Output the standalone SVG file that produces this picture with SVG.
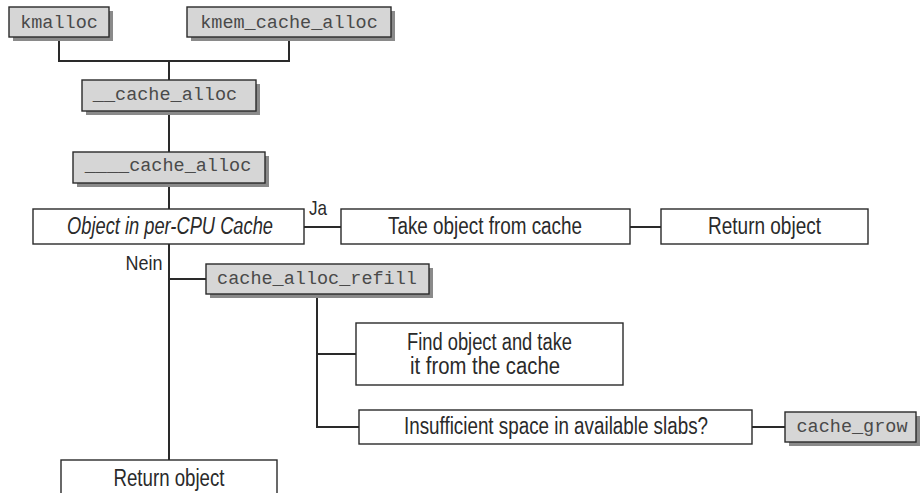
<svg xmlns="http://www.w3.org/2000/svg" width="922" height="493" viewBox="0 0 922 493">
<style>
.bg{fill:#ffffff}
.fn rect.sh{fill:#8a8a8a;stroke:none}
.fn rect.bx{fill:#d6d6d6;stroke:#2a2a2a;stroke-width:1.4}
.fn text{font-family:"Liberation Mono","Courier New",monospace;font-size:18.5px;fill:#4a4a4a;text-anchor:middle}
.st rect{fill:#ffffff;stroke:#2a2a2a;stroke-width:1.4}
.st text,.lbl{font-family:"Liberation Sans Narrow","Liberation Sans",Arial,sans-serif;font-size:23px;fill:#2a2a2a;text-anchor:middle}
.lbl{font-size:21px}
.it{font-style:italic}
#connectors path{fill:none;stroke:#2a2a2a;stroke-width:2}
</style>
<rect class="bg" x="0" y="0" width="922" height="493"/>
<g id="connectors">
<path d="M59 37V61H289V37M169 61V80"/>
<path d="M169 111V152"/>
<path d="M169 183V209"/>
<path d="M304 227H341"/>
<path d="M630 227H661"/>
<path d="M169 244V460"/>
<path d="M169 279H206"/>
<path d="M317 294V427H359M317 354H356"/>
<path d="M752 427H785"/>
</g>
<g id="kmalloc" class="fn"><rect class="sh" x="13" y="11" width="100" height="30"/><rect class="bx" x="9" y="7" width="100" height="30"/><text x="59" y="28">kmalloc</text></g>
<g id="kmem_cache_alloc" class="fn"><rect class="sh" x="191" y="11" width="204" height="30"/><rect class="bx" x="187" y="7" width="204" height="30"/><text x="289" y="28">kmem_cache_alloc</text></g>
<g id="__cache_alloc" class="fn"><rect class="sh" x="86" y="84" width="174" height="31"/><rect class="bx" x="82" y="80" width="174" height="31"/><text x="165" y="100">__cache_alloc</text></g>
<g id="____cache_alloc" class="fn"><rect class="sh" x="77" y="156" width="192" height="31"/><rect class="bx" x="73" y="152" width="192" height="31"/><text x="168" y="171">____cache_alloc</text></g>
<g id="object_in_cache" class="st"><rect x="33" y="209" width="271" height="35"/><text class="it" x="170" y="234" textLength="206" lengthAdjust="spacingAndGlyphs">Object in per-CPU Cache</text></g>
<g id="take_object" class="st"><rect x="341" y="209" width="289" height="35"/><text x="485" y="234" textLength="194" lengthAdjust="spacingAndGlyphs">Take object from cache</text></g>
<g id="return_object_1" class="st"><rect x="661" y="209" width="207" height="35"/><text x="764.5" y="234" textLength="113" lengthAdjust="spacingAndGlyphs">Return object</text></g>
<g id="cache_alloc_refill" class="fn"><rect class="sh" x="210" y="268" width="223" height="30"/><rect class="bx" x="206" y="264" width="223" height="30"/><text x="317" y="284">cache_alloc_refill</text></g>
<g id="find_object" class="st"><rect x="356" y="323" width="267" height="62"/><text x="489.5" y="350" textLength="165" lengthAdjust="spacingAndGlyphs">Find object and take</text><text x="485" y="374" textLength="150" lengthAdjust="spacingAndGlyphs">it from the cache</text></g>
<g id="insufficient" class="st"><rect x="359" y="410" width="393" height="34"/><text x="556" y="434" textLength="304" lengthAdjust="spacingAndGlyphs">Insufficient space in available slabs?</text></g>
<g id="cache_grow" class="fn"><rect class="sh" x="789" y="416" width="131" height="30"/><rect class="bx" x="785" y="412" width="131" height="30"/><text x="852" y="432">cache_grow</text></g>
<g id="return_object_2" class="st"><rect x="61" y="460" width="216" height="40"/><text x="169" y="486" textLength="111" lengthAdjust="spacingAndGlyphs">Return object</text></g>
<g id="labels"><text class="lbl" x="318" y="215" textLength="18" lengthAdjust="spacingAndGlyphs">Ja</text><text class="lbl" x="144" y="270" textLength="37" lengthAdjust="spacingAndGlyphs">Nein</text></g>
</svg>
